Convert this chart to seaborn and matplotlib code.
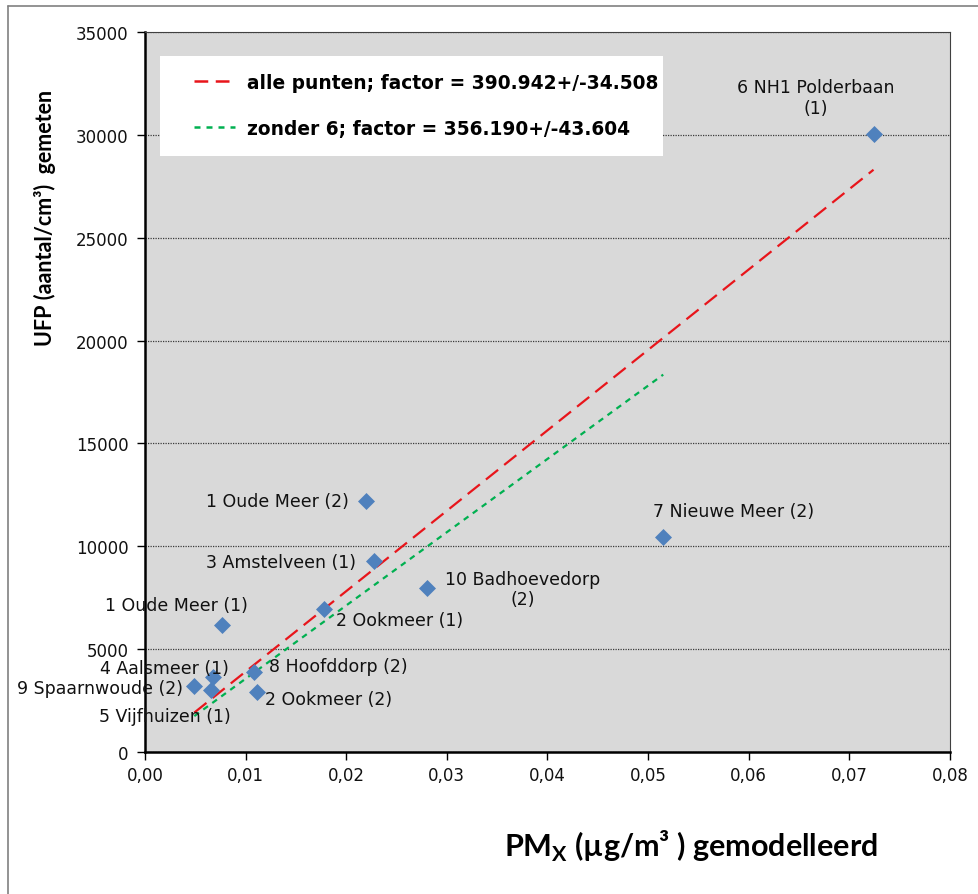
import matplotlib
matplotlib.use("Agg")
import numpy as np
import pandas as pd
import matplotlib.pyplot as plt
import seaborn as sns
from matplotlib.lines import Line2D
from matplotlib.patches import Rectangle
from matplotlib.ticker import MultipleLocator, FuncFormatter

# meetpunten (PMx gemodelleerd vs UFP gemeten)
labels = [
    "6 NH1 Polderbaan\n(1)", "7 Nieuwe Meer (2)", "1 Oude Meer (2)", "3 Amstelveen (1)",
    "10 Badhoevedorp\n(2)", "2 Ookmeer (1)", "1 Oude Meer (1)", "8 Hoofddorp (2)",
    "2 Ookmeer (2)", "4 Aalsmeer (1)", "9 Spaarnwoude (2)", "5 Vijfhuizen (1)",
]
pm_x = [0.0724, 0.0515, 0.0220, 0.0228, 0.0280, 0.0178, 0.0077, 0.0108,
        0.0111, 0.0068, 0.0049, 0.0066]
ufp = [30050, 10450, 12200, 9280, 7970, 6950, 6170, 3890, 2920, 3650, 3210, 3010]

# fit door de oorsprong (factor uit de legenda, per 0.001 µg/m3)
factor_alle = 390.942
factor_zonder6 = 356.190
legend_alle = "alle punten; factor = 390.942+/-34.508"
legend_zonder6 = "zonder 6; factor = 356.190+/-43.604"

# label plaatsing (offset in pixels, ha)
label_pos = {
    "6 NH1 Polderbaan\n(1)": (-58, 36, "center"),
    "7 Nieuwe Meer (2)": (70, 26, "center"),
    "1 Oude Meer (2)": (-17, 0, "right"),
    "3 Amstelveen (1)": (-18, -1, "right"),
    "10 Badhoevedorp\n(2)": (96, -1, "center"),
    "2 Ookmeer (1)": (12, -11, "left"),
    "1 Oude Meer (1)": (-46, 20, "center"),
    "8 Hoofddorp (2)": (15, 6, "left"),
    "2 Ookmeer (2)": (8, -7, "left"),
    "4 Aalsmeer (1)": (15, 9, "right"),
    "9 Spaarnwoude (2)": (-11, -2, "right"),
    "5 Vijfhuizen (1)": (19, -26, "right"),
}

df = pd.DataFrame({"pm": pm_x, "ufp": ufp, "label": labels})

sns.set_style("white")
plt.rcParams["font.family"] = ["DejaVu Sans"]
plt.rcParams["text.color"] = "black"
plt.rcParams["xtick.color"] = "black"
plt.rcParams["ytick.color"] = "black"
plt.rcParams["mathtext.fontset"] = "custom"
plt.rcParams["mathtext.rm"] = "Lato:bold"
plt.rcParams["mathtext.bf"] = "Lato:bold"

fig = plt.figure(figsize=(9.79, 8.95), dpi=100)
ax = fig.add_axes([145 / 979, 1 - 753 / 895, (950 - 145) / 979, (753 - 33) / 895])
ax.set_facecolor("#D9D9D9")

# trendlijnen
x_alle = np.array([df["pm"].min(), df["pm"].max()])
sub = df[~df["label"].str.startswith("6 ")]
x_zonder = np.array([sub["pm"].min(), sub["pm"].max()])
ax.plot(x_alle, factor_alle * 1000 * x_alle, color="#E8151B", lw=1.6,
        dashes=(7, 3.5), zorder=2)
ax.plot(x_zonder, factor_zonder6 * 1000 * x_zonder, color="#00B050", lw=1.6,
        dashes=(2.6, 2.4), zorder=2)

sns.scatterplot(data=df, x="pm", y="ufp", marker="D", s=75, color="#4F81BD",
                edgecolor="#4F81BD", linewidth=0, ax=ax, zorder=3)

for _, r in df.iterrows():
    dx, dy, ha = label_pos[r["label"]]
    ax.annotate(r["label"], (r["pm"], r["ufp"]), xytext=(dx, dy),
                textcoords="offset pixels", ha=ha, va="center",
                fontsize=12.5, color="#111111", multialignment="center",
                zorder=4)

ax.set_xlim(0, 0.08)
ax.set_ylim(0, 35000)
ax.xaxis.set_major_locator(MultipleLocator(0.01))
ax.yaxis.set_major_locator(MultipleLocator(5000))
ax.xaxis.set_major_formatter(FuncFormatter(lambda v, p: f"{v:.2f}".replace(".", ",")))
ax.yaxis.set_major_formatter(FuncFormatter(lambda v, p: f"{int(v)}"))
ax.tick_params(axis="both", direction="out", length=6, width=1, color="black",
               labelsize=12, pad=4, left=True, bottom=True, labelcolor="#111111")
ax.tick_params(axis="y", pad=6)

ax.yaxis.grid(True, color="#3A3A3A", lw=0.9, linestyle=(0, (1, 1)))
ax.set_axisbelow(True)
for gl in ax.yaxis.get_gridlines()[-1:]:
    gl.set_visible(False)

for side in ["top", "right"]:
    ax.spines[side].set_visible(True)
    ax.spines[side].set_color("#404040")
    ax.spines[side].set_linewidth(0.8)
for side in ["left", "bottom"]:
    ax.spines[side].set_color("black")
    ax.spines[side].set_linewidth(1.8)

ax.set_xlabel("")
ax.set_ylabel("")
fig.text(45 / 979, 1 - 218 / 895, "UFP (aantal/cm³)  gemeten", rotation=90,
         ha="center", va="center", fontsize=15.5, fontweight="bold", family="Lato")
fig.text(691 / 979, 1 - 846 / 895, r"PM$_{\mathrm{X}}$ (µg/m³ ) gemodelleerd",
         ha="center", va="center", fontsize=22, fontweight="bold", family="Lato")

# legenda met witte achtergrond
ax.add_patch(Rectangle((15 / 805, (753 - 157) / 720), 503 / 805, 100 / 720,
                       transform=ax.transAxes, facecolor="white", edgecolor="none",
                       zorder=4.5))
handles = [
    Line2D([], [], color="#E8151B", lw=1.8, dashes=(5.5, 3)),
    Line2D([], [], color="#00B050", lw=1.8, dashes=(2.4, 2.4)),
]
leg = ax.legend(handles, [legend_alle, legend_zonder6], loc="center left",
                bbox_to_anchor=(49 / 805, (753 - 106.5) / 720), frameon=False,
                handlelength=2.2, handletextpad=0.65, labelspacing=1.45,
                borderpad=0, borderaxespad=0,
                prop={"weight": "bold", "size": 13.4})
for t in leg.get_texts():
    t.set_color("black")
leg.set_zorder(5)

# rand rond de figuur
fig.add_artist(Line2D([8 / 979, 8 / 979], [0, 1 - 7 / 895], transform=fig.transFigure,
                      color="#808080", lw=1.2))
fig.add_artist(Line2D([8 / 979, 1], [1 - 7 / 895, 1 - 7 / 895], transform=fig.transFigure,
                      color="#808080", lw=1.2))

fig.savefig("out.png", dpi=100)
